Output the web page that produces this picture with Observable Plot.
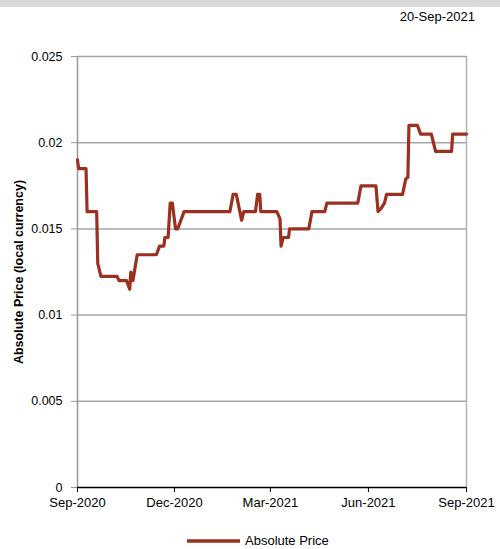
<!DOCTYPE html>
<html>
<head>
<meta charset="utf-8">
<script src="https://cdn.jsdelivr.net/npm/d3@7"></script>
<script src="https://cdn.jsdelivr.net/npm/@observablehq/plot@0.6"></script>
<style>
  body { margin: 0; background: #fff; font-family: "Liberation Sans", Arial, sans-serif; }
  #wrap { position: relative; width: 500px; height: 549px; overflow: hidden; }
  #topbar { position: absolute; left: 0; top: 0; width: 500px; height: 7px; background: #d9d9d9; }
  #date { position: absolute; right: 25px; top: 9px; font-size: 13px; color: #000; }
  #chart { position: absolute; left: 0; top: 0; }
  #legend { position: absolute; left: 187px; top: 533px; font-size: 13px; display: flex; align-items: center; gap: 5px; }
</style>
</head>
<body>
<div id="wrap">
  <div id="chart"></div>
  <div id="topbar"></div>
  <div id="date"></div>
  <div id="legend"></div>
</div>
<script>
const reportDate = "20-Sep-2021";
const seriesName = "Absolute Price";
const yLabel = "Absolute Price (local currency)";
const lineColor = "#9b2f20";

const dates = ["2020-09-20","2020-09-21","2020-09-28","2020-09-29","2020-10-08","2020-10-09","2020-10-12","2020-10-27","2020-10-29","2020-11-05","2020-11-08","2020-11-09","2020-11-11","2020-11-15","2020-12-03","2020-12-06","2020-12-10","2020-12-11","2020-12-14","2020-12-16","2020-12-18","2020-12-21","2020-12-23","2020-12-29","2021-02-10","2021-02-13","2021-02-16","2021-02-21","2021-02-23","2021-03-06","2021-03-08","2021-03-10","2021-03-11","2021-03-26","2021-03-29","2021-03-30","2021-04-01","2021-04-06","2021-04-07","2021-04-25","2021-04-28","2021-05-10","2021-05-12","2021-06-10","2021-06-13","2021-06-27","2021-06-29","2021-07-02","2021-07-05","2021-07-07","2021-07-22","2021-07-25","2021-07-27","2021-07-28","2021-08-05","2021-08-08","2021-08-18","2021-08-22","2021-09-06","2021-09-07","2021-09-20"];
const prices = [0.019,0.0185,0.0185,0.016,0.016,0.013,0.01225,0.01225,0.012,0.012,0.0115,0.0125,0.012,0.0135,0.0135,0.014,0.014,0.0145,0.0145,0.0165,0.0165,0.015,0.015,0.016,0.016,0.017,0.017,0.0155,0.016,0.016,0.017,0.017,0.016,0.016,0.0156,0.014,0.0145,0.0145,0.015,0.015,0.016,0.016,0.0165,0.0165,0.0175,0.0175,0.016,0.0162,0.0165,0.017,0.017,0.0179,0.018,0.021,0.021,0.0205,0.0205,0.0195,0.0195,0.0205,0.0205];

const xTickDates = ["2020-09-20","2020-12-20","2021-03-20","2021-06-20","2021-09-20"];
const xTickLabels = ["Sep-2020","Dec-2020","Mar-2021","Jun-2021","Sep-2021"];
const yTicks = [0, 0.005, 0.01, 0.015, 0.02, 0.025];
const yTickLabels = ["0","0.005","0.01","0.015","0.02","0.025"];

const data = dates.map((d, i) => ({date: new Date(d), price: prices[i]}));
const xTicks = xTickDates.map(d => new Date(d));
const xDomain = [xTicks[0], xTicks[xTicks.length - 1]];

document.getElementById("date").textContent = reportDate;

const chart = Plot.plot({
  width: 500,
  height: 520,
  marginTop: 56,
  marginLeft: 77,
  marginRight: 34,
  marginBottom: 33,
  style: {fontFamily: "'Liberation Sans', Arial, sans-serif", fontSize: "12px", color: "#000", background: "transparent"},
  x: {type: "utc", domain: xDomain},
  y: {domain: [0, 0.025]},
  marks: [
    Plot.gridY(yTicks.slice(1), {stroke: "#a6a6a6", strokeOpacity: 1, strokeWidth: 1.5}),
    Plot.ruleX([xDomain[1]], {stroke: "#b3b3b3", strokeWidth: 1.5}),
    Plot.ruleX([xDomain[0]], {stroke: "#999", strokeWidth: 1.5}),
    Plot.axisY({ticks: yTicks, tickFormat: d => yTickLabels[yTicks.indexOf(d)], tickSize: 6, tickPadding: 9, stroke: "#999", label: null, fontSize: 12.5}),
    Plot.axisX({ticks: xTicks, tickFormat: d => xTickLabels[xTicks.findIndex(t => +t === +d)], tickSize: 5, tickPadding: 5, stroke: "#000", label: null, fontSize: 13}),
    Plot.line(data, {x: "date", y: "price", stroke: lineColor, strokeWidth: 3.2, strokeLinejoin: "round"}),
    Plot.ruleY([0], {stroke: "#000", strokeWidth: 1.5}),
    Plot.text([yLabel], {frameAnchor: "left", textAnchor: "middle", rotate: -90, dx: -59, fontWeight: "bold", fontSize: 12.5, fill: "#000"})
  ]
});
document.getElementById("chart").appendChild(chart);

const legend = document.getElementById("legend");
legend.innerHTML = `<svg width="53" height="6"><line x1="0" y1="3" x2="53" y2="3" stroke="${lineColor}" stroke-width="3.5"/></svg><span>${seriesName}</span>`;
</script>
</body>
</html>
